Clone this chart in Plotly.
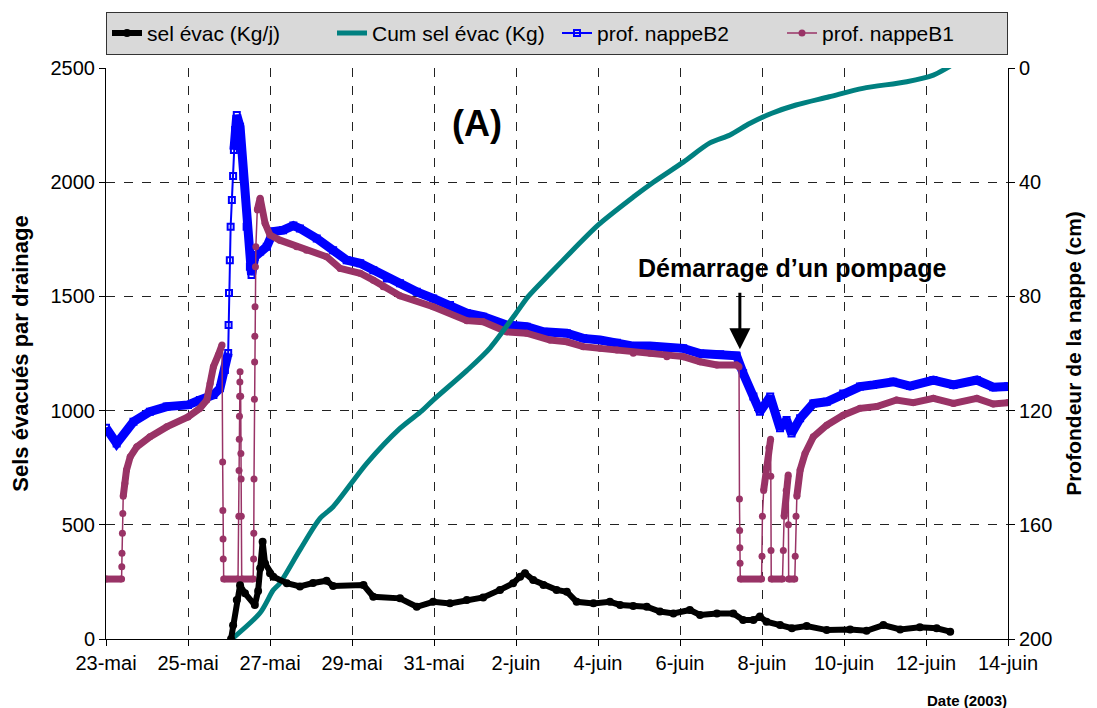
import pandas as pd
import plotly.graph_objects as go

BASE = pd.Timestamp("2003-05-23")

# ---------------- data (days since 23-mai 00h) ----------------
sel_days = [3.05, 3.10, 3.19, 3.27, 3.39, 3.63, 3.71, 3.76, 3.82, 3.88, 4.00, 4.08, 4.41, 4.73,
            5.05, 5.38, 5.54, 6.28, 6.52, 7.17, 7.58, 7.98, 8.39, 8.80, 9.20, 9.61, 9.93, 10.10,
            10.22, 10.42, 10.67, 10.99, 11.24, 11.48, 11.89, 12.29, 12.54, 12.86, 13.19, 13.51,
            13.84, 14.24, 14.49, 14.90, 15.30, 15.54, 15.79, 15.95, 16.11, 16.44, 16.73, 17.09,
            17.58, 18.15, 18.55, 18.96, 19.37, 19.85, 20.26, 20.59]
sel_kgj = [0, 60, 171, 235, 200, 149, 210, 310, 426, 331, 288, 273, 244, 230,
           245, 255, 232, 236, 185, 178, 141, 163, 156, 171, 182, 215, 244, 273,
           288, 258, 236, 215, 207, 163, 156, 163, 149, 144, 141, 120,
           112, 127, 105, 112, 112, 83, 83, 98, 76, 61, 47, 57,
           39, 42, 36, 61, 42, 51, 47, 32]

cum_days = [3.07, 3.76, 4.08, 4.24, 4.73, 5.22, 5.54, 6.36, 7.17, 7.71, 7.98, 8.80, 9.37,
            10.00, 10.30, 10.83, 11.40, 12.00, 12.86, 13.35, 14.08, 14.73, 15.22, 15.71,
            16.24, 16.83, 17.64, 18.46, 19.53, 20.18, 20.59]
cum_kg = [0, 115, 214, 244, 390, 528, 579, 769, 922, 1000, 1046, 1175, 1275,
          1426, 1500, 1600, 1705, 1812, 1935, 2000, 2088, 2172, 2207, 2258,
          2302, 2338, 2374, 2411, 2440, 2469, 2508]

b2_days = [0.00, 0.26, 0.67, 1.07, 1.48, 2.00, 2.29, 2.62, 2.78, 2.90, 2.98, 2.99, 3.00, 3.02,
           3.04, 3.07, 3.10, 3.12, 3.15, 3.19, 3.27, 3.35, 3.43, 3.51, 3.55, 3.63, 3.76,
           3.92, 4.08, 4.32, 4.57, 4.73, 5.14, 5.54, 5.87, 6.20, 6.52, 6.85, 7.17, 7.58,
           7.98, 8.39, 8.80, 9.20, 9.77, 10.26, 10.67, 11.24, 11.64, 12.05, 12.46, 12.86,
           13.27, 13.68, 14.08, 14.49, 14.98, 15.38, 15.54, 15.79, 15.95, 16.20, 16.44,
           16.60, 16.72, 16.93, 17.25, 17.58, 17.98, 18.39, 18.71, 19.20, 19.61, 20.18,
           20.67, 21.24, 21.64, 22.00]
b2_cm = [126, 131.5, 123.9, 120.4, 118.6, 118, 116.3, 114.5, 112.2, 105.8, 99.8, 90, 78.8, 67.3,
         55.6, 46.2, 37.8, 28.7, 21.7, 16.5, 20.6, 38, 55.6, 69.6, 72.5, 66.1, 64.3,
         62.6, 57.3, 56.8, 55.2, 56.2, 59.7, 63.8, 67.3, 68.4, 70.8, 73.7, 75.4, 78.4,
         80.7, 83, 85.9, 87.1, 90, 90.6, 92.4, 92.9, 94.7, 95.3, 96.2, 97.4,
         97.4, 98.2, 98.2, 100, 100.3, 100.8, 106.9, 115.1, 120.4, 115.1, 126.2,
         123.3, 128, 122.7, 117.5, 116.9, 114, 111.6, 111, 109.9, 111.4, 109.3,
         111, 109.3, 111.8, 111.6]

b1_days = [0.00, 0.38, 0.385, 0.39, 0.40, 0.41, 0.42, 0.46, 0.50, 0.59, 0.75, 1.07, 1.48, 2.00,
           2.29, 2.46, 2.54, 2.62, 2.74, 2.83, 2.845, 2.85, 2.855, 2.86, 2.87, 3.22,
           3.24, 3.245, 3.25, 3.255, 3.26, 3.265, 3.27, 3.285, 3.29, 3.295, 3.30, 3.31, 3.59,
           3.60, 3.605, 3.61, 3.62, 3.625, 3.63, 3.635, 3.645, 3.655, 3.69, 3.76, 3.88, 4.00,
           4.24, 4.65, 4.89, 5.38, 5.71, 6.20, 6.52, 6.76, 7.17, 7.98, 8.80, 9.20, 9.77,
           10.26, 10.83, 11.24, 11.64, 12.05, 12.46, 12.86, 13.27, 13.68, 14.08, 14.49,
           14.90, 15.38, 15.44, 15.45, 15.455, 15.46, 15.465, 15.47, 15.99,
           16.00, 16.01, 16.04, 16.11, 16.17, 16.21, 16.215, 16.22, 16.225, 16.50,
           16.52, 16.54, 16.59, 16.64, 16.645, 16.65, 16.80,
           16.81, 16.83, 16.85, 16.93, 17.05, 17.25, 17.58, 17.98, 18.39, 18.80, 19.28,
           19.69, 20.18, 20.67, 21.24, 21.64, 22.00]
b1_cm = [179, 179, 174.7, 170, 163, 156, 150, 145.5, 140.8, 136.2, 132.7, 129.2, 125.7, 122.2,
         119.2, 116.3, 110.5, 104.6, 100.5, 97, 138, 155, 165, 172, 179, 179,
         157, 141, 130, 122, 115, 110, 106.4, 115, 135, 144, 157, 179, 179,
         172, 163, 144, 116, 103, 94, 83.6, 69.6, 62.6, 49.7, 45.6, 54.4, 58.5,
         60.3, 62.6, 63.8, 66.1, 70.2, 71.9, 74.3, 76.6, 79.8, 83.6, 88.5, 88.9, 92.4,
         92.9, 95.3, 95.9, 97.6, 98.2, 98.8, 99.9, 99.9, 101.1, 101.1, 102.9,
         104, 104, 104.6, 151, 162, 168, 173.5, 179, 179,
         171, 157, 148, 140, 133, 130, 143, 169, 179, 179,
         169, 157, 148, 142.6, 160, 179, 179,
         171, 157, 150, 140.8, 135, 129.2, 125.1, 121.6, 119.2, 118.6, 116.3,
         117.2, 115.7, 117.5, 115.7, 117.7, 117.2]

tick_days = [0, 2, 4, 6, 8, 10, 12, 14, 16, 18, 20, 22]
tick_labels = ["23-mai", "25-mai", "27-mai", "29-mai", "31-mai", "2-juin", "4-juin",
               "6-juin", "8-juin", "10-juin", "12-juin", "14-juin"]

# ---------------- helpers ----------------
def to_dates(days):
    return [None if d is None else BASE + pd.Timedelta(days=d) for d in days]


def shallow_parts(xs, ys, lim):
    """keep only segments whose slope is below lim (value units per day)"""
    ox, oy = [], []
    for i in range(len(xs) - 1):
        dx = xs[i + 1] - xs[i]
        dy = ys[i + 1] - ys[i]
        if dx > 0 and abs(dy / dx) <= lim:
            if ox and ox[-1] is not None and ox[-1] == xs[i]:
                ox.append(xs[i + 1]); oy.append(ys[i + 1])
            else:
                if ox:
                    ox.append(None); oy.append(None)
                ox += [xs[i], xs[i + 1]]; oy += [ys[i], ys[i + 1]]
    return ox, oy


FONT = "Arial, Liberation Sans, sans-serif"
BLACK = "#000000"
TEAL = "#008080"
BLUE = "#0000FF"
MAROON = "#993366"

fig = go.Figure()

# water-table depths (primary axis, right side, reversed)
fig.add_trace(go.Scatter(x=to_dates(b2_days), y=b2_cm, name="prof. nappeB2", mode="lines+markers",
                         line=dict(color=BLUE, width=2), marker=dict(symbol="square-open", size=6, color=BLUE,
                                                                      line=dict(width=2, color=BLUE)),
                         yaxis="y", legendrank=3))
tx, ty = shallow_parts(b2_days, b2_cm, 250)
fig.add_trace(go.Scatter(x=to_dates(tx), y=ty, mode="lines", showlegend=False, hoverinfo="skip",
                         line=dict(color=BLUE, width=9), yaxis="y", connectgaps=False))

fig.add_trace(go.Scatter(x=to_dates(b1_days), y=b1_cm, name="prof. nappeB1", mode="lines+markers",
                         line=dict(color=MAROON, width=1.5), marker=dict(symbol="circle", size=7, color=MAROON),
                         yaxis="y", legendrank=4))
tx, ty = shallow_parts(b1_days, b1_cm, 250)
fig.add_trace(go.Scatter(x=to_dates(tx), y=ty, mode="lines", showlegend=False, hoverinfo="skip",
                         line=dict(color=MAROON, width=7), yaxis="y", connectgaps=False))

# salts (overlay axis, left side)
fig.add_trace(go.Scatter(x=to_dates(cum_days), y=cum_kg, name="Cum sel évac (Kg)", mode="lines",
                         line=dict(color=TEAL, width=5, shape="spline", smoothing=0.8),
                         yaxis="y2", legendrank=2))
fig.add_trace(go.Scatter(x=to_dates(sel_days), y=sel_kgj, name="sel évac (Kg/j)", mode="lines+markers",
                         line=dict(color=BLACK, width=6), marker=dict(symbol="circle", size=8, color=BLACK),
                         yaxis="y2", legendrank=1))

grid = dict(showgrid=True, gridcolor="#222222", gridwidth=1, griddash="dash")

fig.update_layout(
    width=1097, height=708,
    margin=dict(l=98, r=97, t=60, b=77, autoexpand=False),
    paper_bgcolor="white", plot_bgcolor="white",
    font=dict(family=FONT, size=20, color="black"),
    showlegend=True,
    legend=dict(orientation="h", x=0.0, y=1.023, xanchor="left", yanchor="bottom",
                bgcolor="#d9d9d9", bordercolor="#333333", borderwidth=1,
                font=dict(family=FONT, size=21, color="black"),
                traceorder="normal", entrywidth=180, entrywidthmode="pixels", itemwidth=30),
    xaxis=dict(type="date", range=[BASE, BASE + pd.Timedelta(days=22)],
               tickvals=to_dates(tick_days), ticktext=tick_labels,
               ticks="outside", ticklen=6, tickcolor="black",
               showline=True, linecolor="black", linewidth=1, zeroline=False,
               tickfont=dict(size=20), **grid),
    yaxis=dict(range=[200, 0], tickvals=[0, 40, 80, 120, 160, 200], side="right",
               ticks="outside", ticklen=6, tickcolor="black",
               showline=True, linecolor="black", linewidth=1, zeroline=False,
               tickfont=dict(size=20), **grid,
               title=dict(text="<b>Profondeur de la nappe (cm)</b>", font=dict(size=21), standoff=14)),
    yaxis2=dict(range=[0, 2500], tickvals=[0, 500, 1000, 1500, 2000, 2500], side="left",
                overlaying="y", ticks="outside", ticklen=6, tickcolor="black",
                showline=True, linecolor="black", linewidth=1, zeroline=False, showgrid=False,
                tickfont=dict(size=20),
                title=dict(text="<b>Sels évacués par drainage</b>", font=dict(size=22), standoff=16)),
    annotations=[
        dict(x=BASE + pd.Timedelta(days=9.05), y=2259, xref="x", yref="y2", text="<b>(A)</b>",
             showarrow=False, font=dict(size=36, family=FONT)),
        dict(x=BASE + pd.Timedelta(days=16.73), y=70.1, xref="x", yref="y",
             text="<b>Démarrage d’un pompage</b>", showarrow=False, font=dict(size=25, family=FONT)),
        dict(x=BASE + pd.Timedelta(days=15.46), y=98.5, xref="x", yref="y", text="",
             showarrow=True, ax=0, ay=-58, arrowhead=2, arrowsize=1.4, arrowwidth=3, arrowcolor="black"),
        dict(x=BASE + pd.Timedelta(days=21.0), y=-0.107, xref="x", yref="paper", yanchor="middle",
             text="<b>Date (2003)</b>", showarrow=False, font=dict(size=15, family=FONT)),
    ],
)

fig.write_html("out.html")
